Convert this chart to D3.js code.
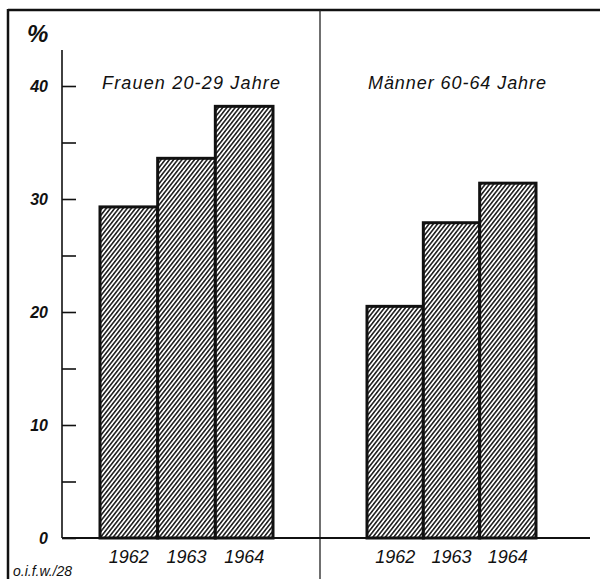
<!DOCTYPE html>
<html>
<head>
<meta charset="utf-8">
<script src="https://cdn.jsdelivr.net/npm/d3@7"></script>
<style>
  html, body { margin: 0; padding: 0; background: #fff; }
  svg { display: block; }
  text { font-family: "Liberation Sans", Arial, sans-serif; font-style: italic; fill: #111; }
</style>
</head>
<body>
<svg id="chart" width="600" height="579"></svg>
<script>
// ---- data ----
const years = ["1962", "1963", "1964"];
const groupTitles = ["Frauen 20-29 Jahre", "Männer 60-64 Jahre"];
const frauen = [29.3, 33.6, 38.2];
const maenner = [20.5, 27.9, 31.4];
const yTicks = [0, 5, 10, 15, 20, 25, 30, 35, 40];
const yLabels = [0, 10, 20, 30, 40];
const yUnit = "%";
const sourceNote = "o.i.f.w./28";

const svg = d3.select("#chart");
const W = 600, H = 579;

// hatch pattern
const defs = svg.append("defs");
const pat = defs.append("pattern")
  .attr("id", "hatch")
  .attr("patternUnits", "userSpaceOnUse")
  .attr("width", 3.3).attr("height", 10)
  .attr("patternTransform", "rotate(38)");
pat.append("rect").attr("width", 3.3).attr("height", 10).attr("fill", "#fff");
pat.append("line").attr("x1", 0.8).attr("y1", 0).attr("x2", 0.8).attr("y2", 10)
  .attr("stroke", "#111").attr("stroke-width", 1.5);

// scales
const y = d3.scaleLinear().domain([0, 40]).range([538, 86]);
const groups = [
  { title: groupTitles[0], values: frauen, x: d3.scaleBand().domain(years).range([100, 273]).paddingInner(0), titleX: 191, titleW: 178 },
  { title: groupTitles[1], values: maenner, x: d3.scaleBand().domain(years).range([367, 536]).paddingInner(0), titleX: 457, titleW: 178 }
];

// frame
svg.append("line").attr("x1", 8).attr("y1", 10).attr("x2", W).attr("y2", 10)
  .attr("stroke", "#111").attr("stroke-width", 2.5);
svg.append("line").attr("x1", 8).attr("y1", 9).attr("x2", 8).attr("y2", H)
  .attr("stroke", "#111").attr("stroke-width", 2.5);
svg.append("line").attr("x1", 320).attr("y1", 10).attr("x2", 320).attr("y2", H)
  .attr("stroke", "#222").attr("stroke-width", 1.3);

// y axis
const axisX = 62;
const yAxis = d3.axisRight(y).tickValues(yTicks).tickSize(14).tickFormat("");
const gAx = svg.append("g").attr("transform", `translate(${axisX},0)`).call(yAxis);
gAx.select(".domain").remove();
gAx.selectAll(".tick line").attr("stroke", "#111").attr("stroke-width", 1.6);
svg.append("line").attr("x1", axisX).attr("y1", 50).attr("x2", axisX).attr("y2", y(0))
  .attr("stroke", "#111").attr("stroke-width", 1.6);

svg.selectAll(".ylab").data(yLabels).enter().append("text")
  .attr("class", "ylab")
  .attr("x", 48).attr("y", d => y(d) + 6)
  .attr("text-anchor", "end")
  .attr("font-size", 16).attr("font-weight", "bold")
  .text(d => d);

svg.append("text").attr("x", 27).attr("y", 42)
  .attr("font-size", 24).attr("font-weight", "bold").text(yUnit);

// bars
groups.forEach((g, gi) => {
  const gg = svg.append("g");
  gg.selectAll("rect").data(g.values).enter().append("rect")
    .attr("x", (d, i) => g.x(years[i]))
    .attr("y", d => y(d))
    .attr("width", g.x.bandwidth())
    .attr("height", d => y(0) - y(d))
    .attr("fill", "url(#hatch)")
    .attr("stroke", "#111").attr("stroke-width", 3);
  gg.selectAll(".yr").data(years).enter().append("text")
    .attr("class", "yr")
    .attr("x", d => g.x(d) + g.x.bandwidth() / 2)
    .attr("y", 563)
    .attr("text-anchor", "middle")
    .attr("font-size", 18)
    .text(d => d);
  gg.append("text")
    .attr("x", g.titleX).attr("y", 89)
    .attr("text-anchor", "middle")
    .attr("font-size", 18)
    .attr("textLength", g.titleW).attr("lengthAdjust", "spacing")
    .text(g.title);
});

// baseline
svg.append("line").attr("x1", axisX).attr("y1", y(0)).attr("x2", 590).attr("y2", y(0))
  .attr("stroke", "#111").attr("stroke-width", 2);

// source note
svg.append("text").attr("x", 13).attr("y", 576)
  .attr("font-size", 14).text(sourceNote);
</script>
</body>
</html>
